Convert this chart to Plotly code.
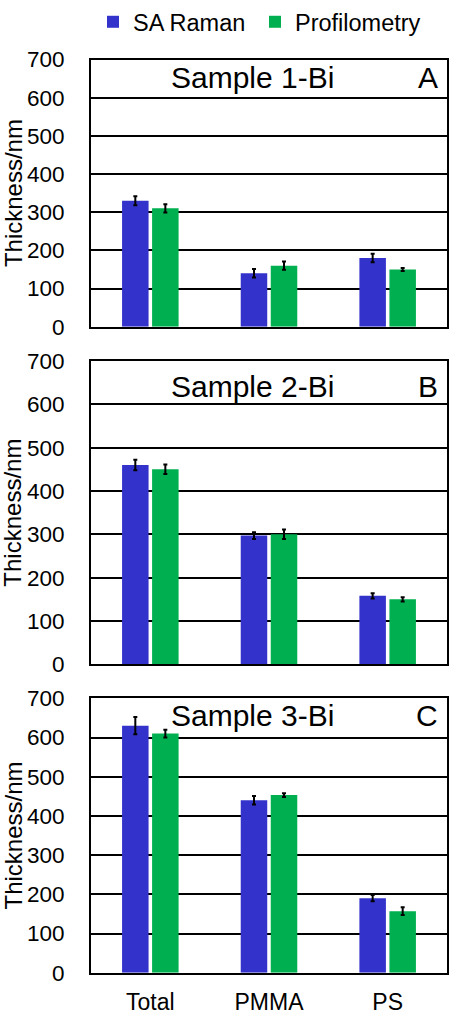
import plotly.graph_objects as go

categories = ["Total", "PMMA", "PS"]
series_names = ["SA Raman", "Profilometry"]
colors = ["#3333CC", "#00B050"]

panel_titles = ["Sample 1-Bi", "Sample 2-Bi", "Sample 3-Bi"]
panel_letters = ["A", "B", "C"]

A_raman = [330, 140, 180]
A_raman_err = [12, 11, 11]
A_prof = [310, 160, 150]
A_prof_err = [11, 11, 4]

B_raman = [460, 297, 158]
B_raman_err = [12, 8, 6]
B_prof = [450, 300, 150]
B_prof_err = [11, 11, 5]

C_raman = [630, 440, 190]
C_raman_err = [22, 11, 8]
C_prof = [610, 453, 157]
C_prof_err = [10, 5, 10]

y_ticks = [0, 100, 200, 300, 400, 500, 600, 700]

panels = [
    (A_raman, A_raman_err, A_prof, A_prof_err),
    (B_raman, B_raman_err, B_prof, B_prof_err),
    (C_raman, C_raman_err, C_prof, C_prof_err),
]

W, H = 458, 1036
FONT = "Liberation Sans, Arial, sans-serif"

panel_px = [(59.5, 326.7), (361, 664.3), (698.3, 972.7)]
title_px = [77, 386.7, 715]
x_left, x_right = 91, 447
legend_names = ["legend", "legend2"]
legend_x_px = [93, 255]

fig = go.Figure()
layout_axes = {}
annotations = []

for i, (r, re, p, pe) in enumerate(panels):
    n = i + 1
    xa = "x" if n == 1 else f"x{n}"
    ya = "y" if n == 1 else f"y{n}"
    for j, (vals, errs) in enumerate([(r, re), (p, pe)]):
        fig.add_trace(go.Bar(
            x=categories, y=vals, name=series_names[j],
            marker=dict(color=colors[j], line=dict(width=0)),
            error_y=dict(type="data", array=errs, visible=True,
                         color="black", thickness=2, width=2),
            xaxis=xa, yaxis=ya, showlegend=(i == 0),
            legendgroup=series_names[j], legend=legend_names[j],
        ))
    top, bot = panel_px[i]
    xkey = "xaxis" if n == 1 else f"xaxis{n}"
    ykey = "yaxis" if n == 1 else f"yaxis{n}"
    layout_axes[xkey] = dict(
        domain=[x_left / W, x_right / W], anchor=ya,
        showline=True, linecolor="black", linewidth=2, mirror=True,
        showgrid=False, showticklabels=(n == 3), ticks="",
        tickfont=dict(family=FONT, size=23, color="black"),
        ticklabelstandoff=8, fixedrange=True, automargin=False,
    )
    layout_axes[ykey] = dict(
        domain=[1 - bot / H, 1 - top / H], anchor=xa,
        range=[0, 700], tickvals=y_ticks,
        showline=True, linecolor="black", linewidth=2, mirror=True,
        showgrid=True, gridcolor="black", gridwidth=1.5, zeroline=False,
        ticks="", tickfont=dict(family=FONT, size=22.5, color="black"),
        ticklabelstandoff=20, fixedrange=True, automargin=False,
    )
    annotations.append(dict(
        text=panel_titles[i], xref="paper", yref="paper",
        x=252.5 / W, y=1 - title_px[i] / H, xanchor="center", yanchor="middle",
        showarrow=False, font=dict(family=FONT, size=30, color="black"),
    ))
    annotations.append(dict(
        text=panel_letters[i], xref="paper", yref="paper",
        x=440 / W, y=1 - title_px[i] / H, xanchor="right", yanchor="middle",
        showarrow=False, font=dict(family=FONT, size=30, color="black"),
    ))
    annotations.append(dict(
        text="Thickness/nm", xref="paper", yref="paper",
        x=13 / W, y=1 - (top + bot) / 2 / H, xanchor="center", yanchor="middle",
        textangle=-90, showarrow=False,
        font=dict(family=FONT, size=24, color="black"),
    ))

legend_style = dict(
    orientation="h", y=1 - 22 / H, xanchor="left", yanchor="middle",
    font=dict(family=FONT, size=23.5, color="black"),
    itemwidth=30, tracegroupgap=0,
)
legends = {name: dict(x=px / W, **legend_style)
           for name, px in zip(legend_names, legend_x_px)}

fig.update_layout(
    width=W, height=H,
    margin=dict(l=0, r=0, t=0, b=0, autoexpand=False),
    paper_bgcolor="white", plot_bgcolor="white",
    barmode="group", bargap=0.494, bargroupgap=0.117,
    annotations=annotations,
    **legends,
    **layout_axes,
)

fig.write_html("out.html")
